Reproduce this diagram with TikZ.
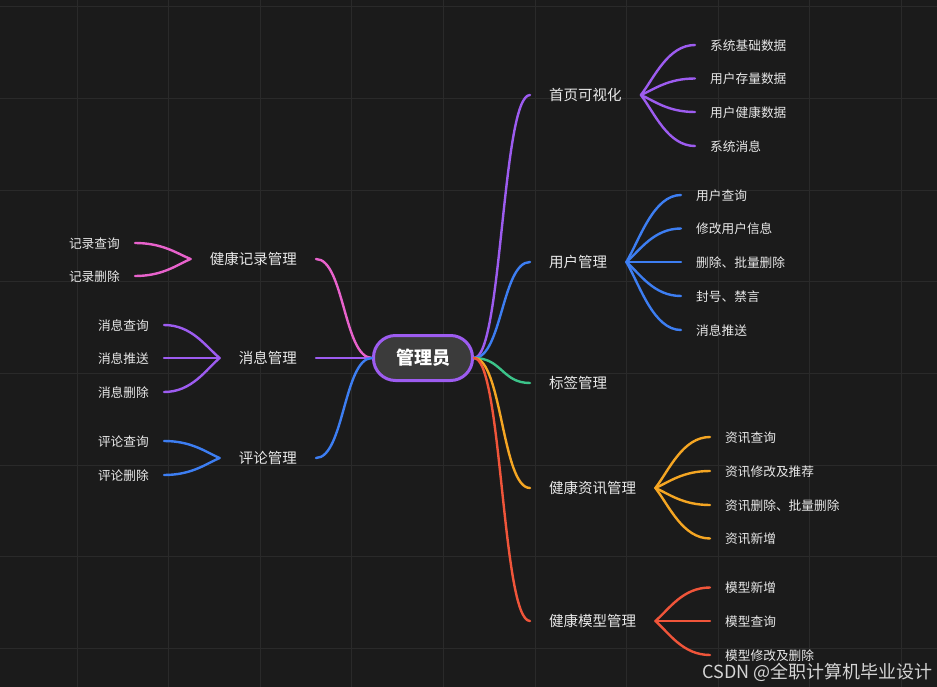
\documentclass[tikz,border=0pt]{standalone}
\usepackage{fontspec}
\setmainfont{Noto Sans CJK SC}
\usetikzlibrary{calc}
\definecolor{bg}{HTML}{1B1B1B}
\definecolor{gridc}{HTML}{2A2A2A}
\definecolor{txt}{HTML}{E8E8E8}
\definecolor{cpurple}{HTML}{9D5CF0}
\definecolor{cblue}{HTML}{3D7EF2}
\definecolor{cgreen}{HTML}{3CC48A}
\definecolor{corange}{HTML}{F5A623}
\definecolor{cred}{HTML}{F0553A}
\definecolor{cpink}{HTML}{E862CC}
\definecolor{cfill}{HTML}{3B3B3B}
\definecolor{wm}{HTML}{D4D4D4}
\tikzset{
  wire/.style={line width=2.4pt, line cap=round},
  mainlink/.style={
    to path={let \p1=(\tikztostart), \p2=(\tikztotarget) in
      .. controls ({0.5*\x1+0.5*\x2},\y1) and ({0.5*\x1+0.5*\x2},\y2) .. (\tikztotarget)}},
  sublink/.style={
    to path={let \p1=(\tikztostart), \p2=(\tikztotarget) in
      .. controls ({\x1+0.25*(\x2-\x1)},{\y1+0.35*(\y2-\y1)}) and ({\x1+0.5*(\x2-\x1)},\y2) .. (\tikztotarget)}},
  mainnode/.style={text=txt, font=\fontsize{14.5}{16}\selectfont, inner xsep=19pt, inner ysep=0pt,
    text height=1.30em, text depth=0.12em},
  leaf/.style={text=txt, font=\fontsize{12.7}{14}\selectfont, inner xsep=15pt, inner ysep=0pt,
    text height=1.20em, text depth=0.12em},
  rootnode/.style={draw=cpurple, line width=3pt, fill=cfill, rounded corners=22pt,
    minimum width=99pt, minimum height=45pt, text=white,
    font=\fontsize{18}{20}\selectfont\bfseries, inner sep=0pt},
  gridline/.style={draw=gridc, line width=1pt}
}
\begin{document}
\begin{tikzpicture}[x=1pt,y=-1pt]
\fill[bg] (0,0) rectangle (937,687);
\useasboundingbox (0,0) rectangle (937,687);
\foreach \k in {0,...,9} { \draw[gridline] ({77+91.6*\k},0) -- ({77+91.6*\k},687); }
\foreach \k in {0,...,7} { \draw[gridline] (0,{7+91.6*\k}) -- (937,{7+91.6*\k}); }

% root
\node[rootnode] (C) at (423,358) {管理员};

% right main branches
\node[mainnode, anchor=west] (R1) at (530,95) {首页可视化};
\node[mainnode, anchor=west] (R2) at (530,262) {用户管理};
\node[mainnode, anchor=west] (R3) at (530,383) {标签管理};
\node[mainnode, anchor=west] (R4) at (530,488) {健康资讯管理};
\node[mainnode, anchor=west] (R5) at (530,621) {健康模型管理};

% left main branches
\node[mainnode, anchor=east] (L1) at (316,259) {健康记录管理};
\node[mainnode, anchor=east] (L2) at (316,358) {消息管理};
\node[mainnode, anchor=east] (L3) at (316,458) {评论管理};

% R1 leaves
\node[leaf, anchor=west] (a1) at (695,45) {系统基础数据};
\node[leaf, anchor=west] (a2) at (695,78.5) {用户存量数据};
\node[leaf, anchor=west] (a3) at (695,112) {用户健康数据};
\node[leaf, anchor=west] (a4) at (695,146) {系统消息};
% R2 leaves
\node[leaf, anchor=west] (b1) at (681,195) {用户查询};
\node[leaf, anchor=west] (b2) at (681,228.5) {修改用户信息};
\node[leaf, anchor=west] (b3) at (681,262) {删除、批量删除};
\node[leaf, anchor=west] (b4) at (681,296) {封号、禁言};
\node[leaf, anchor=west] (b5) at (681,330) {消息推送};
% R4 leaves
\node[leaf, anchor=west] (d1) at (710,437) {资讯查询};
\node[leaf, anchor=west] (d2) at (710,471) {资讯修改及推荐};
\node[leaf, anchor=west] (d3) at (710,505) {资讯删除、批量删除};
\node[leaf, anchor=west] (d4) at (710,538.5) {资讯新增};
% R5 leaves
\node[leaf, anchor=west] (e1) at (710,587.5) {模型新增};
\node[leaf, anchor=west] (e2) at (710,621) {模型查询};
\node[leaf, anchor=west] (e3) at (710,655) {模型修改及删除};
% L1 leaves
\node[leaf, anchor=east] (f1) at (135,243) {记录查询};
\node[leaf, anchor=east] (f2) at (135,276) {记录删除};
% L2 leaves
\node[leaf, anchor=east] (g1) at (164,325) {消息查询};
\node[leaf, anchor=east] (g2) at (164,358) {消息推送};
\node[leaf, anchor=east] (g3) at (164,392) {消息删除};
% L3 leaves
\node[leaf, anchor=east] (h1) at (164,441) {评论查询};
\node[leaf, anchor=east] (h2) at (164,475) {评论删除};

% root connectors
\draw[wire, cpurple] (C.east) to[mainlink] (R1.west);
\draw[wire, cblue] (C.east) to[mainlink] (R2.west);
\draw[wire, cgreen] (C.east) to[mainlink] (R3.west);
\draw[wire, corange] (C.east) to[mainlink] (R4.west);
\draw[wire, cred] (C.east) to[mainlink] (R5.west);
\draw[wire, cpink] (C.west) to[mainlink] (L1.east);
\draw[wire, cpurple] (C.west) to[mainlink] (L2.east);
\draw[wire, cblue] (C.west) to[mainlink] (L3.east);

% fans
\foreach \q in {a1,a2,a3,a4} { \draw[wire, cpurple] (R1.east) to[sublink] (\q.west); }
\foreach \q in {b1,b2,b3,b4,b5} { \draw[wire, cblue] (R2.east) to[sublink] (\q.west); }
\foreach \q in {d1,d2,d3,d4} { \draw[wire, corange] (R4.east) to[sublink] (\q.west); }
\foreach \q in {e1,e2,e3} { \draw[wire, cred] (R5.east) to[sublink] (\q.west); }
\foreach \q in {f1,f2} { \draw[wire, cpink] (L1.west) to[sublink] (\q.east); }
\foreach \q in {g1,g2,g3} { \draw[wire, cpurple] (L2.west) to[sublink] (\q.east); }
\foreach \q in {h1,h2} { \draw[wire, cblue] (L3.west) to[sublink] (\q.east); }

% watermark
\node[text=wm, font=\fontsize{18}{20}\selectfont, anchor=east, inner sep=0pt] (wmk) at (933,672) {CSDN @全职计算机毕业设计};
\end{tikzpicture}
\end{document}
